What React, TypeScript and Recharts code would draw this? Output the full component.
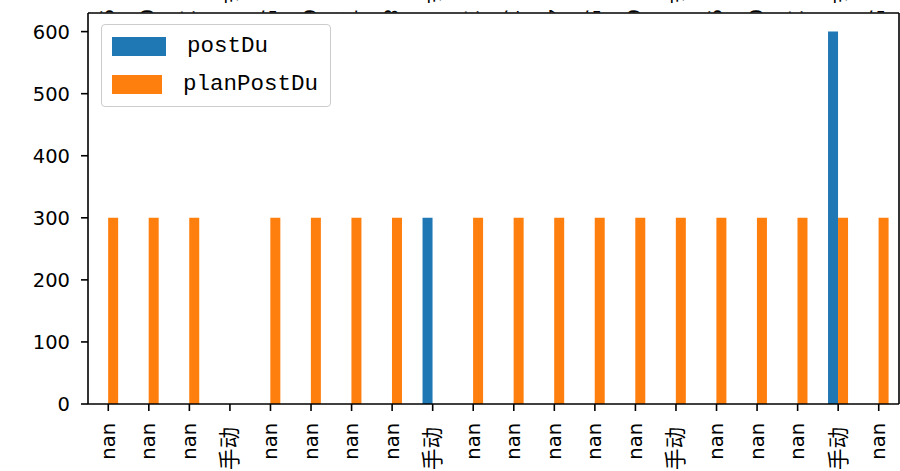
import React from "react";
import { BarChart, Bar, XAxis, YAxis, Legend } from "recharts";

const categories = ["nan","nan","nan","手动","nan","nan","nan","nan","手动","nan","nan","nan","nan","nan","手动","nan","nan","nan","手动","nan"];
const topLabels = ["9","0","1","手","5","6","7","8","手","1","3","4","5","6","手","9","0","1","手","5"];
const postDu: (number | null)[] = [null,null,null,null,null,null,null,null,300,null,null,null,null,null,null,null,null,null,600,null];
const planPostDu: (number | null)[] = [300,300,300,null,300,300,300,300,null,300,300,300,300,300,300,300,300,300,300,300];
const yTicks = [0, 100, 200, 300, 400, 500, 600];
const seriesNames = ["postDu", "planPostDu"];
const colors = ["#1f77b4", "#ff7f0e"];

const data = categories.map((c, i) => ({
  cat: c,
  top: topLabels[i],
  postDu: postDu[i],
  planPostDu: planPostDu[i],
}));

const FONT = "'DejaVu Sans', 'Noto Sans CJK SC', sans-serif";
const isCjk = (s: string) => /[\u4e00-\u9fff]/.test(s);

const BottomTick = (props: any) => {
  const { x, y, payload } = props;
  const cjk = isCjk(payload.value);
  return (
    <text
      transform={`translate(${x},${y + (cjk ? 4 : 0)}) rotate(-90)`}
      textAnchor="end"
      dominantBaseline="central"
      fontFamily={FONT}
      fontSize={cjk ? 21.5 : 19.5}
      fill="#000"
    >
      {payload.value}
    </text>
  );
};

const TopTick = (props: any) => {
  const { x, payload } = props;
  const cjk = isCjk(payload.value);
  const yEnd = cjk ? 4 : 21.5;
  return (
    <svg x={x - 15} y={0} width={30} height={12.5} overflow="hidden">
      <text
        transform={`translate(13,${yEnd}) rotate(90)`}
        textAnchor="end"
        dominantBaseline="central"
        fontFamily={FONT}
        fontSize={cjk ? 21.5 : 19.5}
        fill="#000"
      >
        {payload.value}
      </text>
    </svg>
  );
};

const LegendBox = (props: any) => {
  const payload = [...(props.payload || [])].sort(
    (a: any, b: any) => seriesNames.indexOf(a.value) - seriesNames.indexOf(b.value)
  );
  return (
    <div
      style={{
        border: "1.5px solid #cccccc",
        borderRadius: 4,
        background: "rgba(255,255,255,0.8)",
        padding: "12px 12px 12px 10px",
        width: 206,
        boxSizing: "content-box",
      }}
    >
      {payload.map((p: any, i: number) => (
        <div
          key={i}
          style={{
            display: "flex",
            alignItems: "center",
            height: 19,
            marginTop: i === 0 ? 0 : 19,
          }}
        >
          <div style={{ width: 54, height: 19, background: p.color }} />
          <span
            style={{
              marginLeft: 21,
              fontFamily: "'Liberation Mono', monospace",
              fontSize: 22.5,
              color: "#000",
              lineHeight: "19px",
            }}
          >
            {p.value}
          </span>
        </div>
      ))}
    </div>
  );
};

export default function App() {
  return (
    <div style={{ position: "absolute", left: 0, top: 0, width: 900, height: 471, background: "#fff" }}>
      <BarChart
        width={900}
        height={471}
        data={data}
        margin={{ top: 0, right: 0, bottom: 0, left: 0 }}
        barCategoryGap="25%"
        barGap={0}
      >
        <XAxis
          xAxisId="bottom"
          dataKey="cat"
          orientation="bottom"
          height={67}
          tickSize={7}
          tickMargin={12}
          interval={0}
          tick={<BottomTick />}
          axisLine={{ stroke: "#000", strokeWidth: 1.6 }}
          tickLine={{ stroke: "#000", strokeWidth: 1.6 }}
        />
        <XAxis
          xAxisId="top"
          dataKey="top"
          orientation="top"
          height={13}
          tickSize={0}
          interval={0}
          tick={<TopTick />}
          axisLine={{ stroke: "#000", strokeWidth: 1.6 }}
          tickLine={false}
        />
        <YAxis
          yAxisId="left"
          width={88}
          domain={[0, 630]}
          ticks={yTicks}
          interval={0}
          tickSize={7}
          tickMargin={11}
          tick={{ fontFamily: FONT, fontSize: 19.5, fill: "#000" }}
          axisLine={{ stroke: "#000", strokeWidth: 1.6 }}
          tickLine={{ stroke: "#000", strokeWidth: 1.6 }}
        />
        <YAxis
          yAxisId="right"
          orientation="right"
          width={1}
          domain={[0, 630]}
          tick={false}
          tickLine={false}
          axisLine={{ stroke: "#000", strokeWidth: 1.6 }}
        />
        <Legend
          layout="vertical"
          align="center"
          verticalAlign="middle"
          content={<LegendBox />}
          wrapperStyle={{ position: "absolute", left: 101, top: 24, width: "auto", height: "auto" }}
        />
        <Bar
          xAxisId="bottom"
          yAxisId="left"
          dataKey="postDu"
          name={seriesNames[0]}
          fill={colors[0]}
          isAnimationActive={false}
        />
        <Bar
          xAxisId="bottom"
          yAxisId="left"
          dataKey="planPostDu"
          name={seriesNames[1]}
          fill={colors[1]}
          isAnimationActive={false}
        />
      </BarChart>
    </div>
  );
}
